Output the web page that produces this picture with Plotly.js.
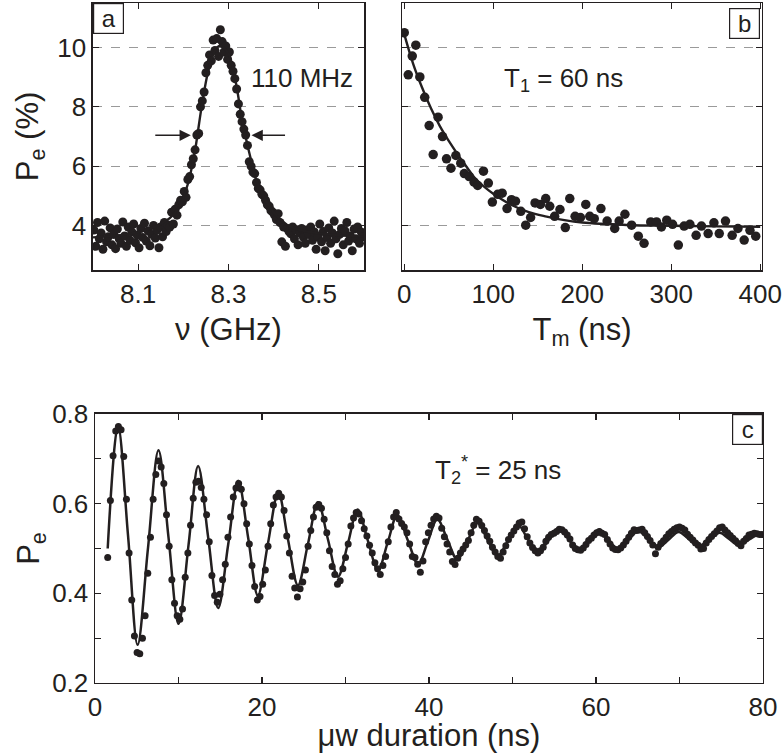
<!DOCTYPE html>
<html>
<head>
<meta charset="utf-8">
<script src="https://cdn.plot.ly/plotly-3.0.1.min.js"></script>
<style>
  html, body { margin: 0; padding: 0; background: #fff; }
  #fig { width: 784px; height: 753px; }
</style>
</head>
<body>
<div id="fig"></div>
<script>
// panel a: spectroscopy, P_e (%) vs microwave frequency (GHz), 4 MHz steps
var aFreqStart = 8.002;
var aFreqStep = 0.004;
var aSignal = [
  3.85, 3.30, 4.10, 3.55, 3.75, 3.20, 4.15, 3.45, 3.62, 3.92,
  3.35, 3.70, 3.22, 3.88, 3.55, 3.40, 4.12, 3.65, 3.30, 3.95,
  3.50, 3.78, 4.05, 3.42, 3.68, 3.25, 3.90, 3.60, 4.08, 3.48,
  3.82, 3.32, 3.70, 4.00, 3.58, 3.85, 3.25, 3.95, 3.62, 4.10,
  3.80, 4.02, 3.95, 4.45, 4.05, 4.55, 4.35, 4.70, 4.85, 4.80,
  5.15, 4.95, 5.55, 5.65, 6.05, 6.25, 6.55, 7.05, 7.10, 8.00,
  8.20, 8.50, 9.15, 9.40, 9.75, 9.55, 10.25, 9.90, 10.30, 9.70,
  10.60, 10.20, 9.85, 10.05, 9.60, 9.85, 9.40, 9.20, 8.95, 8.60,
  8.10, 7.75, 7.50, 7.25, 7.05, 6.70, 6.15, 6.00, 5.80, 5.75,
  5.45, 5.25, 5.20, 5.05, 5.00, 4.85, 4.70, 4.65, 4.50, 4.45,
  4.35, 4.20, 4.40, 4.10, 3.45, 3.95, 3.30, 3.90, 3.80, 3.72,
  3.95, 3.55, 3.85, 3.35, 3.75, 3.90, 3.60, 3.40, 3.85, 3.70,
  3.95, 3.50, 3.78, 3.20, 3.62, 4.05, 3.45, 3.80, 3.15, 3.60,
  3.92, 3.40, 3.75, 4.15, 3.55, 3.05, 3.70, 3.90, 3.35, 3.82,
  4.10, 3.48, 3.65, 3.15, 3.88, 3.55, 3.95, 3.40, 3.78, 3.62
];
// fitted line
var aFitFreq = [8.00, 8.05, 8.10, 8.14, 8.17, 8.19, 8.21, 8.225, 8.24, 8.255, 8.27, 8.28, 8.29,
                8.30, 8.31, 8.32, 8.33, 8.34, 8.35, 8.36, 8.375, 8.39, 8.41, 8.43, 8.46, 8.52, 8.60];
var aFitVal = [3.60, 3.66, 3.78, 3.98, 4.25, 4.60, 5.40, 6.45, 7.95, 9.20, 9.90, 10.05, 9.98,
               9.80, 9.30, 8.50, 7.55, 6.85, 6.20, 5.60, 5.05, 4.65, 4.28, 4.02, 3.84, 3.70, 3.62];

// panel b: relaxation, P_e (%) vs wait time T_m (ns)
var bTime = [0, 4.5, 9, 13, 17.5, 23, 28, 32.5, 38, 43, 47.5, 52.5, 58, 63.5, 67.5, 73, 78.5, 82.5,
             89, 94.5, 99, 105, 110, 115.5, 120.5, 125, 131, 136.5, 142, 147, 153, 159, 163.5, 169,
             175, 181, 186, 192, 198, 204, 208.5, 213.5, 221, 228, 236.5, 241.5, 248, 255.5, 263,
             269.5, 277, 283.5, 289, 295, 301.5, 308, 314.5, 321, 328, 334, 341.5, 348, 354, 361,
             368.5, 375, 382, 388.5, 395];
var bSignal = [10.5, 9.08, 9.71, 10.08, 9.01, 8.32, 7.37, 6.39, 7.65, 7.0, 6.25, 5.93, 6.36, 6.1, 5.75,
               5.65, 5.46, 5.35, 5.83, 5.43, 4.79, 5.05, 5.09, 4.57, 4.87, 4.82, 4.48, 4.01, 4.27,
               4.76, 4.71, 4.91, 4.65, 4.31, 4.54, 3.93, 4.91, 4.31, 4.27, 4.71, 4.31, 4.23, 4.57,
               4.15, 3.9, 4.15, 4.38, 4.01, 3.64, 3.4, 4.12, 4.12, 3.95, 4.18, 4.04, 3.34, 3.98,
               4.04, 3.67, 3.98, 3.73, 4.09, 3.73, 4.15, 3.67, 3.9, 3.51, 3.84, 3.64];
var bFitTime = [0, 10, 20, 30, 40, 50, 60, 70, 80, 90, 100, 120, 140, 160, 180, 200, 250, 300, 350, 400];
var bFitVal = [10.45, 9.45, 8.65, 7.95, 7.35, 6.85, 6.4, 5.98, 5.58, 5.3, 5.07, 4.7, 4.45, 4.3, 4.18,
               4.1, 4.02, 3.99, 3.97, 3.96];

// panel c: Rabi oscillation, P_e vs microwave pulse duration (ns), 0.32 ns steps
var cTimeStart = 1.52;
var cTimeStep = 0.32;
var cSignal = [
  0.480, 0.607, 0.707, 0.762, 0.772, 0.765, 0.705, 0.610, 0.490, 0.385,
  0.305, 0.268, 0.265, 0.300, 0.350, 0.445, 0.525, 0.610, 0.665, 0.695,
  0.682, 0.645, 0.575, 0.505, 0.430, 0.378, 0.350, 0.342, 0.365, 0.436,
  0.490, 0.552, 0.612, 0.648, 0.650, 0.636, 0.610, 0.575, 0.515, 0.440,
  0.395, 0.380, 0.398, 0.430, 0.465, 0.525, 0.570, 0.615, 0.635, 0.645,
  0.632, 0.600, 0.555, 0.510, 0.462, 0.415, 0.385, 0.393, 0.420, 0.452,
  0.505, 0.555, 0.597, 0.615, 0.623, 0.615, 0.585, 0.528, 0.490, 0.438,
  0.412, 0.392, 0.410, 0.425, 0.452, 0.505, 0.540, 0.570, 0.592, 0.598,
  0.590, 0.565, 0.535, 0.495, 0.460, 0.442, 0.420, 0.428, 0.455, 0.480,
  0.510, 0.550, 0.568, 0.580, 0.577, 0.562, 0.544, 0.528, 0.507, 0.490,
  0.468, 0.455, 0.442, 0.462, 0.482, 0.515, 0.548, 0.570, 0.580, 0.566,
  0.556, 0.548, 0.535, 0.510, 0.482, 0.480, 0.465, 0.447, 0.472, 0.515,
  0.535, 0.552, 0.566, 0.572, 0.568, 0.545, 0.526, 0.510, 0.492, 0.471,
  0.464, 0.478, 0.490, 0.499, 0.508, 0.518, 0.535, 0.552, 0.565, 0.561,
  0.551, 0.540, 0.528, 0.516, 0.503, 0.492, 0.482, 0.478, 0.492, 0.506,
  0.520, 0.530, 0.539, 0.548, 0.557, 0.559, 0.544, 0.526, 0.512, 0.502,
  0.495, 0.490, 0.495, 0.503, 0.516, 0.525, 0.531, 0.534, 0.538, 0.543,
  0.542, 0.537, 0.530, 0.521, 0.508, 0.500, 0.497, 0.496, 0.501, 0.509,
  0.518, 0.523, 0.530, 0.535, 0.538, 0.534, 0.531, 0.520, 0.510, 0.501,
  0.498, 0.497, 0.501, 0.508, 0.516, 0.525, 0.534, 0.542, 0.540, 0.541,
  0.543, 0.535, 0.527, 0.518, 0.508, 0.488, 0.503, 0.511, 0.517, 0.525,
  0.533, 0.538, 0.543, 0.546, 0.548, 0.545, 0.541, 0.532, 0.525, 0.519,
  0.512, 0.507, 0.499, 0.500, 0.512, 0.520, 0.527, 0.533, 0.539, 0.546,
  0.548, 0.541, 0.535, 0.529, 0.523, 0.517, 0.511, 0.506, 0.516, 0.522,
  0.530, 0.532, 0.534, 0.533, 0.531, 0.531
];
// fitted damped oscillation: extrema and mid crossings
var cFitTime = [1.52, 2.75, 3.95, 5.1, 6.35, 7.6, 8.8, 10.0, 11.2, 12.35, 13.55, 14.75, 15.95, 17.15,
  18.35, 19.5, 20.7, 21.95, 23.1, 24.3, 25.5, 26.7, 27.9, 29.1, 30.3, 31.45, 32.65, 33.9, 35.05,
  36.2, 37.45, 38.7, 39.85, 41.0, 42.2, 43.4, 44.6, 45.8, 47.0, 48.2, 49.45, 50.7, 51.85, 53.0,
  54.3, 55.6, 56.75, 57.9, 59.15, 60.4, 61.5, 62.6, 63.85, 65.1, 66.25, 67.4, 68.65, 69.9, 71.1,
  72.3, 73.55, 74.8, 75.95, 77.1, 78.35, 79.6, 80.0];
var cFitVal = [0.50, 0.774, 0.530, 0.285, 0.502, 0.719, 0.525, 0.332, 0.508, 0.684, 0.525, 0.367,
  0.509, 0.651, 0.523, 0.395, 0.510, 0.625, 0.521, 0.418, 0.510, 0.603, 0.520, 0.437, 0.512, 0.587,
  0.519, 0.452, 0.513, 0.574, 0.519, 0.465, 0.515, 0.565, 0.520, 0.475, 0.516, 0.557, 0.520, 0.483,
  0.517, 0.551, 0.520, 0.490, 0.518, 0.546, 0.520, 0.495, 0.518, 0.542, 0.520, 0.499, 0.519, 0.539,
  0.520, 0.502, 0.519, 0.537, 0.521, 0.505, 0.520, 0.535, 0.521, 0.507, 0.520, 0.533, 0.532];

var ink = '#231f20';
var fontFam = 'Liberation Sans, Arial, Helvetica, sans-serif';

var traces = [
  {x0: aFreqStart, dx: aFreqStep, y: aSignal, type: 'scatter', mode: 'markers',
   marker: {color: ink, size: 9}, xaxis: 'x', yaxis: 'y'},
  {x: aFitFreq, y: aFitVal, type: 'scatter', mode: 'lines',
   line: {color: ink, width: 2.4, shape: 'spline'}, xaxis: 'x', yaxis: 'y'},

  {x: bTime, y: bSignal, type: 'scatter', mode: 'markers',
   marker: {color: ink, size: 9.5}, xaxis: 'x2', yaxis: 'y2'},
  {x: bFitTime, y: bFitVal, type: 'scatter', mode: 'lines',
   line: {color: ink, width: 2.4, shape: 'spline'}, xaxis: 'x2', yaxis: 'y2'},

  {x0: cTimeStart, dx: cTimeStep, y: cSignal, type: 'scatter', mode: 'markers',
   marker: {color: ink, size: 7}, xaxis: 'x3', yaxis: 'y3'},
  {x: cFitTime, y: cFitVal, type: 'scatter', mode: 'lines',
   line: {color: ink, width: 2.5, shape: 'spline', smoothing: 1}, xaxis: 'x3', yaxis: 'y3'}
];

// shared axis look: boxed frame, inward ticks on all sides
function frame(extra) {
  var base = {
    showline: true, linecolor: ink, linewidth: 1.5, mirror: 'ticks',
    ticks: 'inside', ticklen: 6, tickwidth: 1.2, tickcolor: ink,
    zeroline: false, showgrid: false, fixedrange: true,
    tickfont: {size: 26, color: ink}
  };
  for (var k in extra) base[k] = extra[k];
  return base;
}

var dashGrid = {showgrid: true, griddash: 'dash', gridcolor: '#9a9a9a', gridwidth: 1};

var layout = {
  width: 784, height: 753,
  margin: {l: 0, r: 0, t: 0, b: 0},
  paper_bgcolor: '#fff', plot_bgcolor: '#fff',
  font: {family: fontFam, size: 26, color: ink},
  showlegend: false,

  xaxis: frame({domain: [0.1186, 0.4643], range: [8.0, 8.6], anchor: 'y',
    tickmode: 'array', tickvals: [8.1, 8.3, 8.5], ticktext: ['8.1', '8.3', '8.5'],
    title: {text: 'ν (GHz)', standoff: 10}}),
  yaxis: frame(Object.assign({domain: [0.6414, 0.996], range: [2.5, 11.5], anchor: 'x',
    tickmode: 'array', tickvals: [4, 6, 8, 10], ticktext: ['4', '6', '8', '10'],
    title: {text: 'P<sub>e</sub> (%)', standoff: 9}}, dashGrid)),

  xaxis2: frame({domain: [0.5128, 0.9719], range: [-2.5, 402], anchor: 'y2',
    tickmode: 'array', tickvals: [0, 100, 200, 300, 400],
    title: {text: 'T<sub>m</sub> (ns)', standoff: 10}}),
  yaxis2: frame(Object.assign({domain: [0.6414, 0.996], range: [2.5, 11.5], anchor: 'x2',
    tickmode: 'array', tickvals: [4, 6, 8, 10], showticklabels: false}, dashGrid)),

  xaxis3: frame({domain: [0.1212, 0.9732], range: [0, 80], anchor: 'y3',
    tickmode: 'array', tickvals: [0, 10, 20, 30, 40, 50, 60, 70, 80],
    ticktext: ['0', '', '20', '', '40', '', '60', '', '80'],
    title: {text: 'μw duration (ns)', standoff: 10}}),
  yaxis3: frame({domain: [0.0930, 0.4502], range: [0.2, 0.8], anchor: 'x3',
    tickmode: 'array', tickvals: [0.2, 0.3, 0.4, 0.5, 0.6, 0.7, 0.8],
    ticktext: ['0.2', '', '0.4', '', '0.6', '', '0.8'],
    title: {text: 'P<sub>e</sub>', standoff: 3}}),

  annotations: [
    // panel letters
    {xref: 'x domain', yref: 'y domain', x: 0, y: 1, xanchor: 'left', yanchor: 'top',
     text: 'a', showarrow: false, font: {size: 24}, bgcolor: '#fff',
     bordercolor: ink, borderwidth: 1.2, borderpad: 1, width: 27, height: 27},
    {xref: 'x2 domain', yref: 'y2 domain', x: 1, y: 1, xanchor: 'right', yanchor: 'top',
     xshift: -2, yshift: -5,
     text: 'b', showarrow: false, font: {size: 24}, bgcolor: '#fff',
     bordercolor: ink, borderwidth: 1.2, borderpad: 1, width: 27, height: 27},
    {xref: 'x3 domain', yref: 'y3 domain', x: 1, y: 1, xanchor: 'right', yanchor: 'top',
     text: 'c', showarrow: false, font: {size: 24}, bgcolor: '#fff',
     bordercolor: ink, borderwidth: 1.2, borderpad: 1, width: 27, height: 27},

    // linewidth label and FWHM arrows
    {xref: 'x domain', yref: 'y domain', x: 0.771, y: 0.719, xanchor: 'center', yanchor: 'middle',
     text: '110 MHz', showarrow: false, font: {size: 26}},
    {xref: 'x', yref: 'y', x: 8.2165, y: 7.04, ax: -37, ay: 0, text: '', showarrow: true,
     arrowhead: 2, arrowsize: 1.5, arrowwidth: 1.5, arrowcolor: ink, standoff: 0},
    {xref: 'x', yref: 'y', x: 8.351, y: 7.04, ax: 35, ay: 0, text: '', showarrow: true,
     arrowhead: 2, arrowsize: 1.5, arrowwidth: 1.5, arrowcolor: ink, standoff: 0},

    {xref: 'x2 domain', yref: 'y2 domain', x: 0.278, y: 0.712, xanchor: 'left', yanchor: 'middle',
     text: 'T<sub>1</sub> = 60 ns', showarrow: false, font: {size: 26}},
    {xref: 'x3 domain', yref: 'y3 domain', x: 0.506, y: 0.792, xanchor: 'left', yanchor: 'middle',
     text: 'T<sub>2</sub><sup>*</sup> = 25 ns', showarrow: false, font: {size: 26}}
  ]
};

Plotly.newPlot('fig', traces, layout, {displayModeBar: false, staticPlot: true});
</script>
</body>
</html>
